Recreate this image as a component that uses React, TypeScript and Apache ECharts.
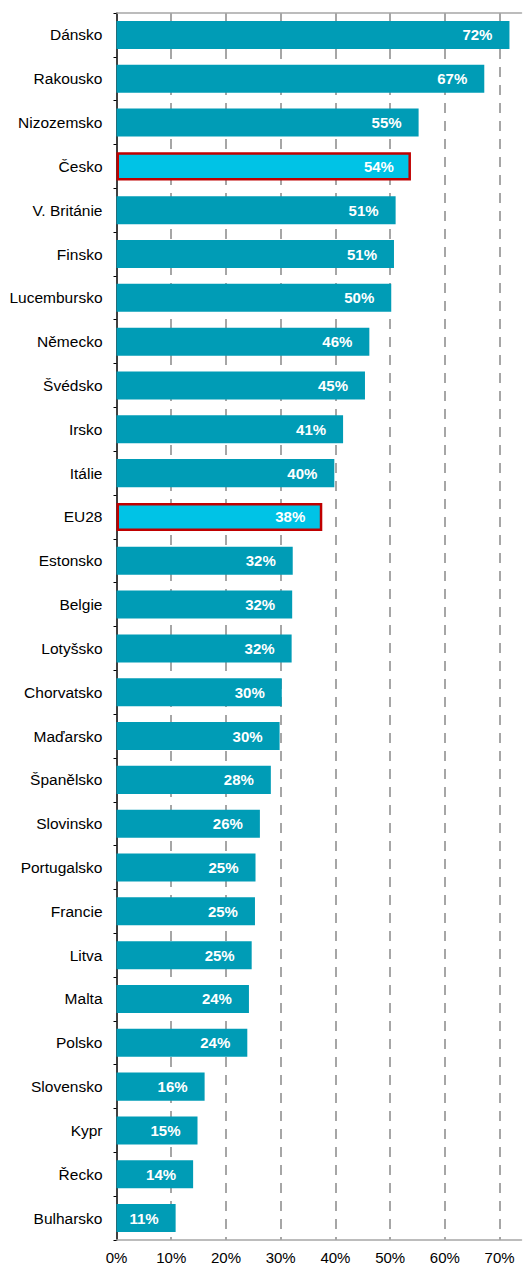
import React, { useEffect, useRef } from "react";
import * as echarts from "echarts";

const categories = [
  "Dánsko", "Rakousko", "Nizozemsko", "Česko", "V. Británie", "Finsko", "Lucembursko",
  "Německo", "Švédsko", "Irsko", "Itálie", "EU28", "Estonsko", "Belgie", "Lotyšsko",
  "Chorvatsko", "Maďarsko", "Španělsko", "Slovinsko", "Portugalsko", "Francie", "Litva",
  "Malta", "Polsko", "Slovensko", "Kypr", "Řecko", "Bulharsko",
];
const values = [
  71.8, 67.2, 55.2, 53.8, 51.0, 50.7, 50.2, 46.2, 45.4, 41.4, 39.8, 37.6, 32.2, 32.1, 32.0,
  30.2, 29.8, 28.2, 26.2, 25.4, 25.3, 24.7, 24.2, 23.9, 16.1, 14.8, 14.0, 10.8,
];
const highlighted = ["Česko", "EU28"];
const xMin = 0;
const xMax = 74;
const xInterval = 10;

const FONT = "'Liberation Sans', Arial, sans-serif";

export default function App() {
  const ref = useRef<HTMLDivElement>(null);
  useEffect(() => {
    if (!ref.current) return;
    const chart = echarts.init(ref.current, undefined, { renderer: "svg" });
    const data = values.map((v, i) =>
      highlighted.includes(categories[i])
        ? {
            value: v,
            itemStyle: { color: "#00C3E6", borderColor: "#C00000", borderWidth: 2.5 },
          }
        : { value: v }
    );
    chart.setOption({
      animation: false,
      backgroundColor: "#ffffff",
      grid: { left: 116.5, right: 4.5, top: 13, bottom: 27, containLabel: false },
      xAxis: [
        {
          type: "value",
          min: xMin,
          max: xMax,
          interval: xInterval,
          position: "bottom",
          axisLine: { show: true, lineStyle: { color: "#A6A6A6", width: 1.5 } },
          axisTick: { show: false },
          axisLabel: {
            color: "#000",
            fontFamily: FONT,
            fontSize: 15,
            margin: 10,
            showMaxLabel: false,
            formatter: (v: number) => (v % 10 === 0 ? v + "%" : ""),
          },
          splitLine: {
            show: true,
            showMinLine: false,
            showMaxLine: false,
            lineStyle: { color: "#A6A6A6", width: 2, type: [10, 8] },
          },
        },
        {
          type: "value",
          min: xMin,
          max: xMax,
          interval: xInterval,
          position: "top",
          axisLine: { show: true, lineStyle: { color: "#A6A6A6", width: 1.5 } },
          axisTick: { show: false },
          axisLabel: { show: false },
          splitLine: { show: false },
        },
      ],
      yAxis: {
        type: "category",
        data: categories,
        inverse: true,
        axisLine: { show: true, lineStyle: { color: "#000", width: 1.5 } },
        axisTick: { show: true, length: 3, alignWithLabel: false, lineStyle: { color: "#000" } },
        axisLabel: { color: "#000", fontFamily: FONT, fontSize: 15.5, margin: 14 },
        splitLine: { show: false },
      },
      series: [
        {
          type: "bar",
          xAxisIndex: 0,
          data,
          barCategoryGap: "36%",
          itemStyle: { color: "#009CB6" },
          label: {
            show: true,
            position: "insideRight",
            distance: 17,
            color: "#fff",
            fontFamily: FONT,
            fontWeight: "bold",
            fontSize: 15,
            formatter: (p: any) => Math.round(p.value) + "%",
          },
        },
      ],
    });
    return () => chart.dispose();
  }, []);
  return (
    <div
      ref={ref}
      style={{ position: "absolute", left: 0, top: 0, width: 526, height: 1267 }}
    />
  );
}
